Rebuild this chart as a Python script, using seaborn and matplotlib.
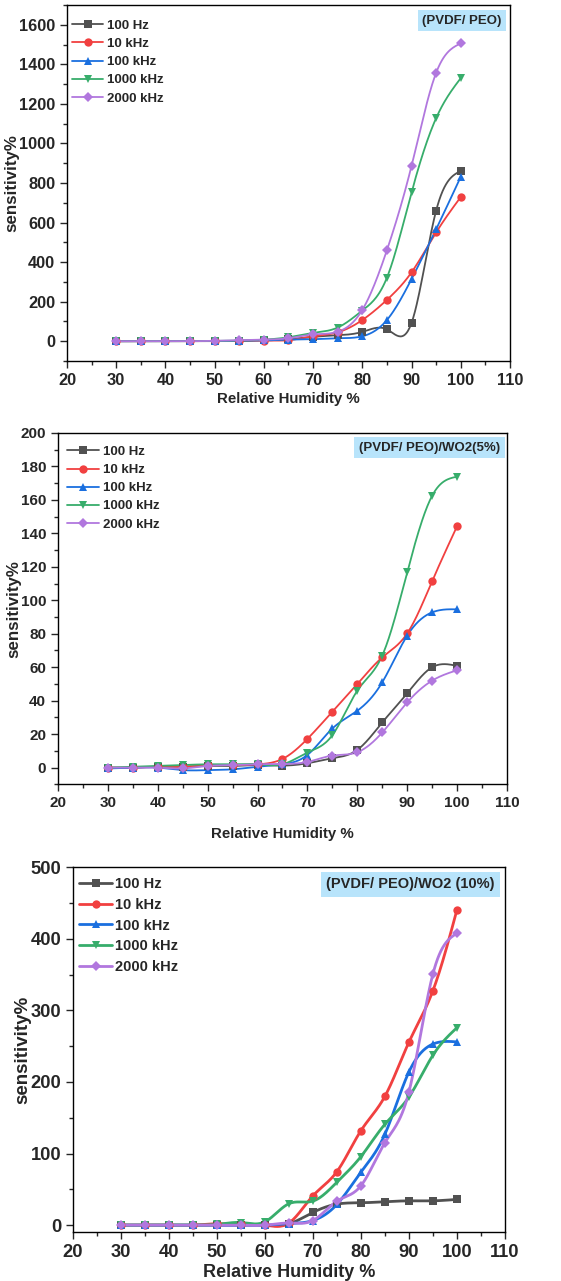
import numpy as np
import pandas as pd
import matplotlib
matplotlib.use('Agg')
import matplotlib.pyplot as plt
from matplotlib.lines import Line2D
from matplotlib.ticker import MultipleLocator
import seaborn as sns

# Relative humidity steps (x axis)
rh = [30, 35, 40, 45, 50, 55, 60, 65, 70, 75, 80, 85, 90, 95, 100]
series_names = ['100 Hz', '10 kHz', '100 kHz', '1000 kHz', '2000 kHz']

# Panel 1 : (PVDF/ PEO)
p1_100hz = [0, 0, 0, 0, 0, 2, 4, 10, 22, 30, 47, 60, 92, 660, 861]
p1_10khz = [0, 0, 0, 0, 0, 1, 3, 5, 25, 45, 107, 209, 348, 550, 729]
p1_100khz = [0, 0, 0, 0, 0, 2, 4, 8, 10, 15, 25, 107, 314, 566, 831]
p1_1000khz = [0, 0, 0, 0, 2, 3, 8, 20, 42, 69, 155, 321, 752, 1128, 1330]
p1_2000khz = [0, 0, 0, 0, 2, 5, 8, 15, 34, 48, 158, 460, 886, 1357, 1506]

# Panel 2 : (PVDF/ PEO)/WO2(5%)
p2_100hz = [0, 0, 0.5, 0.5, 1, 1, 1.5, 1.2, 2.6, 5.6, 10.6, 27, 44.4, 60, 60.8]
p2_10khz = [0, 0, 0.5, 0.5, 1.5, 1.5, 2, 5.2, 17.2, 33.4, 49.9, 65.9, 80.2, 111.4, 144.3]
p2_100khz = [-0.5, 0, 0, -1.5, -1.5, -1, 0.5, 2, 7.6, 23.4, 34, 51, 78.9, 92.8, 94.6]
p2_1000khz = [0, 0.5, 1, 1.5, 2, 2, 2, 2, 9, 19.4, 46, 67, 116.8, 162.5, 173.9]
p2_2000khz = [0, 0, 0, -0.5, 1, 1.5, 2, 2.2, 3.4, 7.2, 9.2, 21, 39, 52, 58.2]

# Panel 3 : (PVDF/ PEO)/WO2 (10%)
p3_100hz = [0, 0, 0, 0, 0, 0, 0, 2, 17.8, 29.4, 31.3, 32.7, 34, 34, 36]
p3_10khz = [0, 0, 0, 0, 2, 1, 0, 3, 41, 74.8, 132, 180, 255.6, 327.5, 440.3]
p3_100khz = [0, 0, 0, 0, 0, 0, 0, 2, 6.5, 29, 74, 127, 214, 253, 256]
p3_1000khz = [0, 0, 0, 0, 1, 3.7, 4.7, 30, 33.6, 60, 95.8, 141, 179, 237.4, 275.8]
p3_2000khz = [0, 0, 0, 0, 0, 0, 0, 3, 6.5, 33.6, 55, 115.4, 186, 350.8, 407.7]

colors = ['#515151', '#F14040', '#1A6FDF', '#37AD6B', '#B177DE']
markers = ['s', 'o', '^', 'v', 'D']
msizes = [5.5, 6, 6, 6, 4.8]


def smooth(x, y, n=400):
    # natural cubic spline through the points (line drawing only)
    x = np.asarray(x, float)
    y = np.asarray(y, float)
    h = np.diff(x)
    m = len(x)
    A = np.zeros((m, m))
    b = np.zeros(m)
    A[0, 0] = A[-1, -1] = 1
    for i in range(1, m - 1):
        A[i, i - 1] = h[i - 1]
        A[i, i] = 2 * (h[i - 1] + h[i])
        A[i, i + 1] = h[i]
        b[i] = 3 * ((y[i + 1] - y[i]) / h[i] - (y[i] - y[i - 1]) / h[i - 1])
    c = np.linalg.solve(A, b)
    bb = (y[1:] - y[:-1]) / h - h * (2 * c[:-1] + c[1:]) / 3
    d = (c[1:] - c[:-1]) / (3 * h)
    xs = np.linspace(x[0], x[-1], n)
    k = np.clip(np.searchsorted(x, xs) - 1, 0, m - 2)
    t = xs - x[k]
    ys = y[k] + bb[k] * t + c[k] * t ** 2 + d[k] * t ** 3
    return xs, ys


sns.set_style('ticks')
plt.rcParams['font.family'] = ['Liberation Sans', 'DejaVu Sans']
plt.rcParams['font.weight'] = 'bold'

fig = plt.figure(figsize=(5.61, 12.81), dpi=100)

panels = [
    dict(data=[p1_100hz, p1_10khz, p1_100khz, p1_1000khz, p1_2000khz],
         pos=[0.1194, 0.7182, 0.7896, 0.2779], ylim=(-100, 1700), major=200,
         title='(PVDF/ PEO)', fs=11.8, lfs=9.5, xfs=10.8, yfs=12.2, lw=1.3,
         xpad=3, ylx=-0.108, leg=(-0.01, 0.985), hl=2.4, htp=0.3,
         tpos=(0.981, 0.973)),
    dict(data=[p2_100hz, p2_10khz, p2_100khz, p2_1000khz, p2_2000khz],
         pos=[0.1034, 0.3877, 0.8003, 0.2743], ylim=(-10, 200), major=20,
         title='(PVDF/ PEO)/WO2(5%)', fs=11, lfs=9.5, xfs=10.8, yfs=12.2, lw=1.3,
         xpad=12, ylx=-0.082, leg=(0.0, 0.99), hl=2.4, htp=0.3,
         tpos=(0.985, 0.975)),
    dict(data=[p3_100hz, p3_10khz, p3_100khz, p3_1000khz, p3_2000khz],
         pos=[0.130, 0.0380, 0.770, 0.2850], ylim=(-10, 500), major=100,
         title='(PVDF/ PEO)/WO2 (10%)', fs=13.2, lfs=10.5, xfs=13, yfs=13.5, lw=2.0,
         xpad=2, ylx=-0.097, leg=(-0.01, 1.0), hl=2.3, htp=0.2,
         tpos=(0.977, 0.972)),
]

for p in panels:
    ax = fig.add_axes(p['pos'])
    curves = []
    for name, vals in zip(series_names, p['data']):
        xs, ys = smooth(rh, vals)
        curves.append(pd.DataFrame({'rh': xs, 'sens': ys, 'freq': name}))
    df_curve = pd.concat(curves)
    df_pts = pd.DataFrame({'rh': rh * 5,
                           'sens': sum(p['data'], []),
                           'freq': np.repeat(series_names, len(rh))})
    sns.lineplot(data=df_curve, x='rh', y='sens', hue='freq', palette=colors,
                 linewidth=p['lw'], legend=False, ax=ax, sort=False)
    for name, col, mk, ms in zip(series_names, colors, markers, msizes):
        sub = df_pts[df_pts['freq'] == name]
        ax.plot(sub['rh'], sub['sens'], linestyle='none', marker=mk, color=col,
                markersize=ms, markeredgewidth=0)

    ax.set_xlim(20, 110)
    ax.set_ylim(*p['ylim'])
    ax.xaxis.set_major_locator(MultipleLocator(10))
    ax.xaxis.set_minor_locator(MultipleLocator(5))
    ax.yaxis.set_major_locator(MultipleLocator(p['major']))
    ax.yaxis.set_minor_locator(MultipleLocator(p['major'] / 2))
    ax.tick_params(which='major', direction='out', length=5, width=1,
                   labelsize=p['fs'])
    ax.tick_params(which='minor', direction='out', length=3, width=1)
    for lab in ax.get_xticklabels() + ax.get_yticklabels():
        lab.set_fontweight('bold')
    for s in ax.spines.values():
        s.set_linewidth(1)
        s.set_color('black')
    ax.set_xlabel('Relative Humidity %', fontsize=p['xfs'], fontweight='bold',
                  labelpad=p['xpad'])
    ax.set_ylabel('sensitivity%', fontsize=p['yfs'], fontweight='bold')
    ax.yaxis.set_label_coords(p['ylx'], 0.5)

    handles = [Line2D([0], [0], color=c, marker=m, markersize=ms,
                      markeredgewidth=0, linewidth=p['lw'])
               for c, m, ms in zip(colors, markers, msizes)]
    ax.legend(handles, series_names, loc='upper left', bbox_to_anchor=p['leg'],
              frameon=False, prop={'weight': 'bold', 'size': p['lfs']},
              handlelength=p['hl'], handletextpad=p['htp'], labelspacing=0.45,
              borderaxespad=0.3)

    ax.text(p['tpos'][0], p['tpos'][1], p['title'], transform=ax.transAxes,
            ha='right', va='top', fontsize=p['lfs'], fontweight='bold',
            bbox=dict(boxstyle='square,pad=0.35', facecolor='#B8E4FB',
                      edgecolor='none'))

fig.savefig('out.png', dpi=100)
